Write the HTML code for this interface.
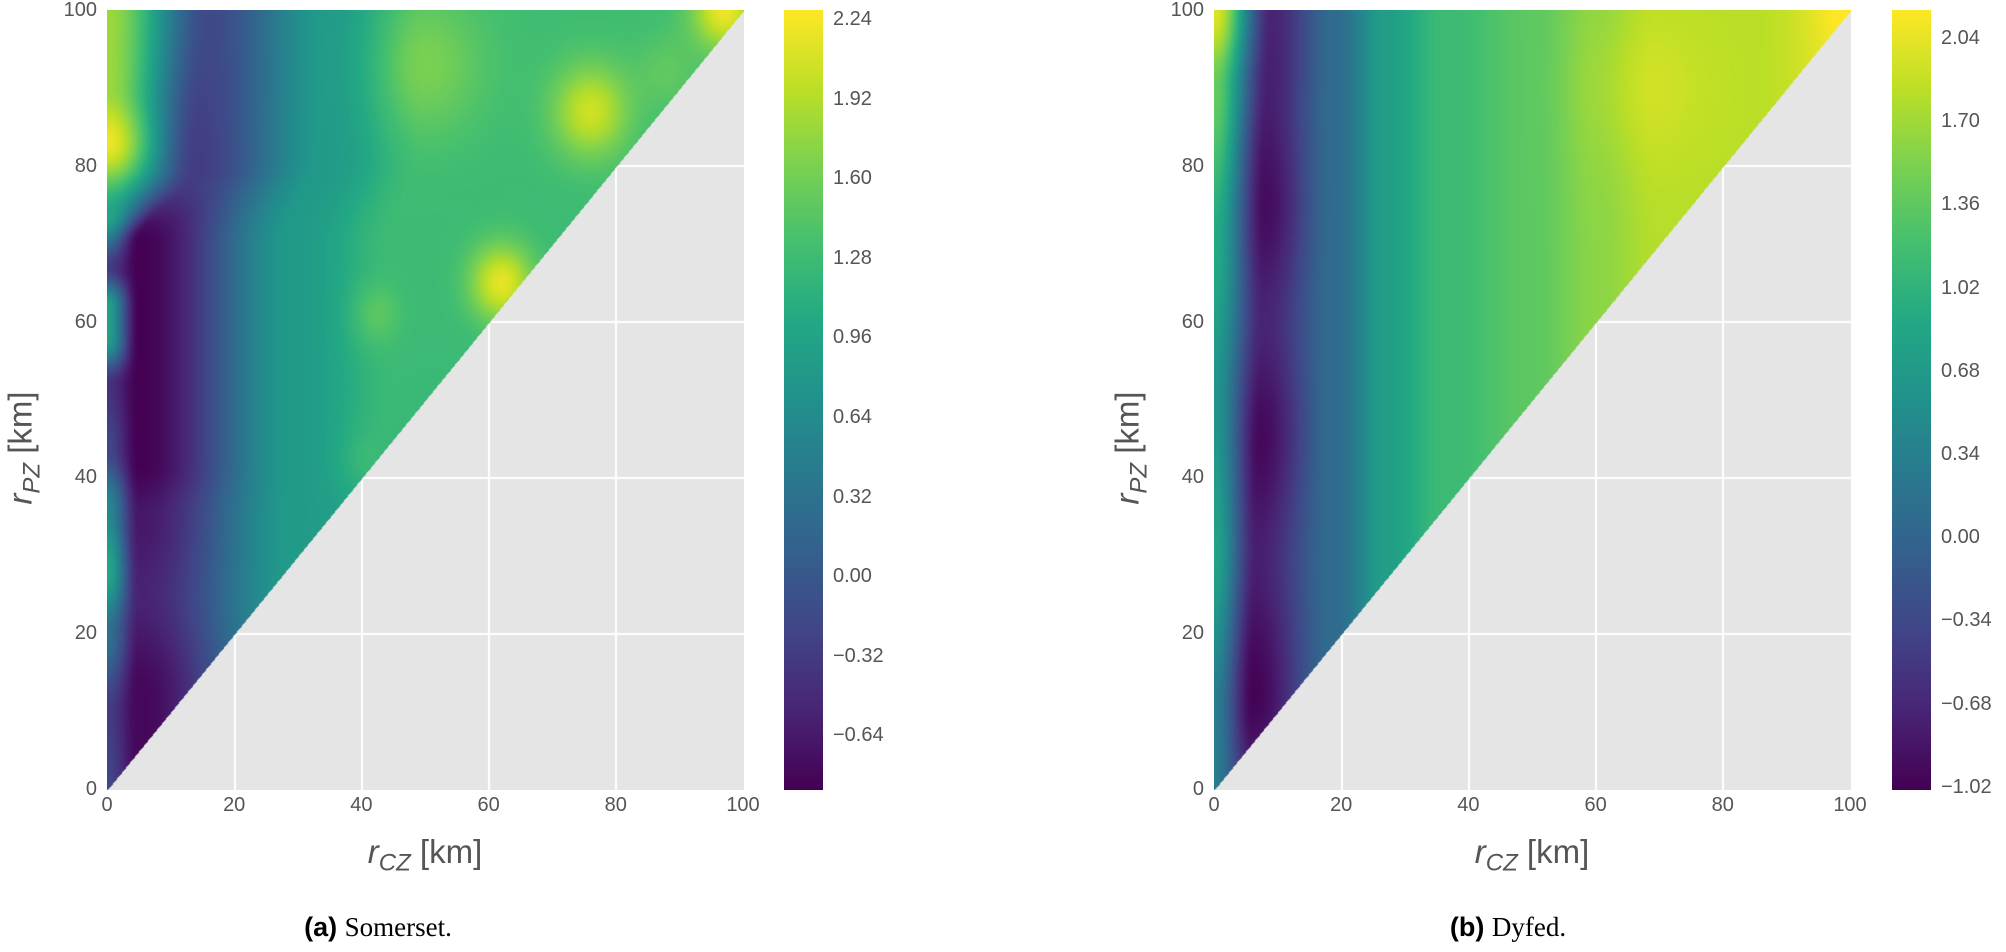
<!DOCTYPE html>
<html><head><meta charset="utf-8"><style>
body{margin:0;background:#fff;width:2006px;height:952px;position:relative;overflow:hidden;font-family:"Liberation Sans",sans-serif}
canvas{position:absolute}
.t{position:absolute;color:#555;font-size:20px;line-height:20px;white-space:nowrap}
.xl{transform:translateX(-50%)}
.yl{text-align:right;width:60px}
.lab{position:absolute;color:#555;font-size:33px;white-space:nowrap}
.cap{position:absolute;font-size:27px;color:#000;white-space:nowrap;transform:translateX(-50%)}
</style></head><body>
<canvas id="p0" width="637" height="780" style="left:107px;top:10px"></canvas>
<canvas id="c0" width="39" height="780" style="left:784px;top:10px"></canvas>
<canvas id="p1" width="637" height="780" style="left:1214px;top:10px"></canvas>
<canvas id="c1" width="39" height="780" style="left:1892px;top:10px"></canvas>
<div id="txt"></div>
<script>
var V=[[68,1,84],[72,36,117],[65,68,135],[53,95,141],[42,120,142],[33,145,140],[34,168,132],[68,191,112],[122,209,81],[189,223,38],[253,231,37]];
function cm(t){t=Math.max(0,Math.min(1,t))*10;var i=Math.min(9,Math.floor(t)),f=t-i,a=V[i],b=V[i+1];return[a[0]+(b[0]-a[0])*f,a[1]+(b[1]-a[1])*f,a[2]+(b[2]-a[2])*f];}
function pw(pts,x){if(x<=pts[0][0])return pts[0][1];for(var i=1;i<pts.length;i++){if(x<=pts[i][0]){var f=(x-pts[i-1][0])/(pts[i][0]-pts[i-1][0]);f=f*f*(3-2*f);return pts[i-1][1]+(pts[i][1]-pts[i-1][1])*f;}}return pts[pts.length-1][1];}
function g(x,y,cx,cy,s,a){var d=((x-cx)*(x-cx)+(y-cy)*(y-cy))/(s*s);return a*Math.exp(-d);}
function f0(x,y){
 var cx=pw([[0,5],[70,5],[80,14],[100,16]],y);
 var bv=pw([[0,-0.8],[12,-0.8],[25,-0.55],[35,-0.65],[42,-0.85],[70,-0.85],[78,-0.3],[100,-0.15]],y);
 var ed=pw([[0,-0.2],[10,-0.3],[20,0.3],[28,1.0],[36,0.6],[44,-0.2],[52,-0.4],[58,0.9],[62,0.9],[67,-0.3],[74,1.0],[83,2.2],[90,1.8],[100,1.8]],y);
 var far=pw([[0,1.1],[30,1.0],[50,1.25],[100,1.3]],y);
 var xw=pw([[0,30],[70,30],[82,35],[100,35]],y);
 var v;
 if(x<cx){v=pw([[0,ed],[cx,bv]],x);}
 else{v=pw([[cx,bv],[xw,0.85],[xw+15,far],[100,far]],x);}
 v+=g(x,y,50,93,9,0.35)+g(x,y,76,87,6,0.75)+g(x,y,62,65,5,0.9)+g(x,y,42,61,4,0.25)+g(x,y,40,42,4,0.15)+g(x,y,97,100,5,0.9)+g(x,y,88,92,5,0.2);
 return v;}
function f1(x,y){
 var cx=pw([[0,6],[80,8],[100,9]],y);
 var bv=pw([[0,-0.7],[12,-1.0],[30,-0.75],[45,-0.95],[60,-0.7],[75,-0.92],[90,-0.75],[100,-0.7]],y);
 var ed=pw([[0,0.3],[10,0.3],[30,0.8],[50,0.6],[70,0.9],[90,1.4],[100,2.0]],y);
 var v;
 if(x<cx){v=pw([[0,ed],[cx,bv]],x);}
 else{v=pw([[cx,bv],[19,0.1],[27,0.75],[36,1.12],[50,1.35],[60,1.6],[70,1.8],[85,1.82],[100,2.05]],x);}
 v+=g(x,y,67,90,10,0.15)+g(x,y,100,100,6,0.15);
 return v;}
function draw(id,fn,vmin,vmax){
 var c=document.getElementById(id),ctx=c.getContext('2d'),W=c.width,H=c.height;
 var im=ctx.createImageData(W,H),d=im.data;
 for(var j=0;j<H;j++){var y=100*(H-1-j)/(H-1);
  for(var i=0;i<W;i++){var x=100*i/(W-1),k=(j*W+i)*4,col;
   if(y>=x-0.15){col=cm((fn(x,y)-vmin)/(vmax-vmin));}
   else{col=[229,229,229];
    for(var q=20;q<100;q+=20){var px=(W-1)*q/100,py=(H-1)*(1-q/100);if(Math.abs(i-px)<1.1||Math.abs(j-py)<1.1)col=[255,255,255];}}
   d[k]=col[0];d[k+1]=col[1];d[k+2]=col[2];d[k+3]=255;}}
 ctx.putImageData(im,0,0);}
function bar(id){var c=document.getElementById(id),ctx=c.getContext('2d');for(var j=0;j<c.height;j++){var col=cm(1-j/(c.height-1));ctx.fillStyle='rgb('+col.map(Math.round).join(',')+')';ctx.fillRect(0,j,c.width,1);}}
draw('p0',f0,-0.85,2.276);draw('p1',f1,-1.02,2.155);bar('c0');bar('c1');
var h='';
[0,1107].forEach(function(o,pi){
 for(var q=0;q<=100;q+=20){var px=107+o+636*q/100,py=10+779*(1-q/100);
  h+='<div class="t xl" style="left:'+px+'px;top:795px">'+q+'</div>';
  h+='<div class="t yl" style="left:'+(37+o)+'px;top:'+(py-10)+'px">'+q+'</div>';}
 var labs=pi==0?['2.24','1.92','1.60','1.28','0.96','0.64','0.32','0.00','\u22120.32','\u22120.64']:['2.04','1.70','1.36','1.02','0.68','0.34','0.00','\u22120.34','\u22120.68','\u22121.02'];
 var top=pi==0?19:38,sp=pi==0?79.6:83.2,bx=pi==0?833:1941;
 labs.forEach(function(l,k){h+='<div class="t" style="left:'+bx+'px;top:'+(top+k*sp-10)+'px">'+l+'</div>';});
 h+='<div class="lab" style="left:'+(425+o)+'px;top:833px;transform:translateX(-50%)"><i>r</i><sub style="font-size:24px"><i>CZ</i></sub> [km]</div>';
 h+='<div class="lab" style="left:'+(24+o)+'px;top:448px;transform:translate(-50%,-50%) rotate(-90deg)"><i>r</i><sub style="font-size:24px"><i>PZ</i></sub> [km]</div>';
});
h+='<div class="cap" style="left:378px;top:912px"><b style="font-family:\'Liberation Sans\',sans-serif">(a)</b> <span style="font-family:\'Liberation Serif\',serif">Somerset.</span></div>';
h+='<div class="cap" style="left:1508px;top:912px"><b style="font-family:\'Liberation Sans\',sans-serif">(b)</b> <span style="font-family:\'Liberation Serif\',serif">Dyfed.</span></div>';
document.getElementById('txt').innerHTML=h;
</script>
</body></html>
